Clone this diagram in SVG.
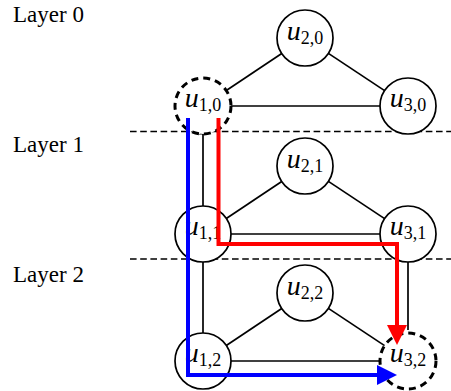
<svg xmlns="http://www.w3.org/2000/svg" width="451" height="391" viewBox="0 0 451 391">
<style>
.sep{stroke:#000;stroke-width:1.6;stroke-dasharray:6.6 3.6;fill:none}
.edge{stroke:#000;stroke-width:1.7;fill:none}
.node{fill:#fff;stroke:#000;stroke-width:1.7}
.dnode{fill:#fff;stroke:#000;stroke-width:3;stroke-dasharray:7 5}
.lbl{font-size:28px;fill:#000}
.lbl .u{font-style:italic}
.lbl .s{font-size:18px}
.layer{font-size:23px;fill:#000}
.red{stroke:#ff0000;stroke-width:4;fill:none;stroke-linejoin:miter}
.blue{stroke:#0000ff;stroke-width:4;fill:none;stroke-linejoin:miter}
</style>
<defs>
<marker id="ar" markerUnits="userSpaceOnUse" markerWidth="20" markerHeight="20" refX="0" refY="10" orient="auto" viewBox="0 0 20 20"><path d="M0,0 L20,10 L0,20 z" fill="#ff0000"/></marker>
<marker id="ab" markerUnits="userSpaceOnUse" markerWidth="20" markerHeight="20" refX="0" refY="10" orient="auto" viewBox="0 0 20 20"><path d="M0,0 L20,10 L0,20 z" fill="#0000ff"/></marker>
</defs>
<g id="layers" font-family="'Liberation Serif', 'Times New Roman', serif">
<text class="layer" x="13" y="22">Layer 0</text>
<text class="layer" x="13" y="152">Layer 1</text>
<text class="layer" x="13" y="282">Layer 2</text>
<line class="sep" x1="130" y1="131.5" x2="451" y2="131.5"/>
<line class="sep" x1="130" y1="259" x2="451" y2="259"/>
</g>
<g id="connectors">
<line class="edge" x1="226.3" y1="90.5" x2="281.7" y2="53.5"/>
<line class="edge" x1="328.4" y1="53.4" x2="384.6" y2="90.6"/>
<line class="edge" x1="231" y1="106" x2="380" y2="106"/>
<line class="edge" x1="226.3" y1="218.5" x2="281.7" y2="181.5"/>
<line class="edge" x1="328.4" y1="181.4" x2="384.6" y2="218.6"/>
<line class="edge" x1="231" y1="234" x2="380" y2="234"/>
<line class="edge" x1="226.3" y1="345.5" x2="281.7" y2="308.5"/>
<line class="edge" x1="328.4" y1="308.4" x2="384.6" y2="345.6"/>
<line class="edge" x1="231" y1="361" x2="379" y2="361"/>
<line class="edge" x1="203" y1="134" x2="203" y2="206"/>
<polygon points="198.5,134.5 207.5,134.5 203,131.5" fill="#000"/>
<line class="edge" x1="203" y1="262" x2="203" y2="333"/>
<line class="edge" x1="408" y1="262" x2="408" y2="330"/>
</g>
<g font-family="'Liberation Serif', 'Times New Roman', serif">
<g id="u20"><circle class="node" cx="305" cy="38" r="28"/><text class="lbl" x="305" y="40" text-anchor="middle"><tspan class="u">u</tspan><tspan class="s" dy="4">2,0</tspan></text></g>
<g id="u10"><circle class="dnode" cx="203" cy="106" r="28"/><text class="lbl" x="203" y="107" text-anchor="middle"><tspan class="u">u</tspan><tspan class="s" dy="4">1,0</tspan></text></g>
<g id="u30"><circle class="node" cx="408" cy="106" r="28"/><text class="lbl" x="408" y="107" text-anchor="middle"><tspan class="u">u</tspan><tspan class="s" dy="4">3,0</tspan></text></g>
<g id="u21"><circle class="node" cx="305" cy="166" r="28"/><text class="lbl" x="305" y="168" text-anchor="middle"><tspan class="u">u</tspan><tspan class="s" dy="4">2,1</tspan></text></g>
<g id="u11"><circle class="node" cx="203" cy="234" r="28"/><text class="lbl" x="203" y="235" text-anchor="middle"><tspan class="u">u</tspan><tspan class="s" dy="4">1,1</tspan></text></g>
<g id="u31"><circle class="node" cx="408" cy="234" r="28"/><text class="lbl" x="408" y="235" text-anchor="middle"><tspan class="u">u</tspan><tspan class="s" dy="4">3,1</tspan></text></g>
<g id="u22"><circle class="node" cx="305" cy="293" r="28"/><text class="lbl" x="305" y="295" text-anchor="middle"><tspan class="u">u</tspan><tspan class="s" dy="4">2,2</tspan></text></g>
<g id="u12"><circle class="node" cx="203" cy="361" r="28"/><text class="lbl" x="203" y="362" text-anchor="middle"><tspan class="u">u</tspan><tspan class="s" dy="4">1,2</tspan></text></g>
<g id="u32"><circle class="dnode" cx="408" cy="361" r="28"/><text class="lbl" x="408" y="362" text-anchor="middle"><tspan class="u">u</tspan><tspan class="s" dy="4">3,2</tspan></text></g>
</g>
<g id="paths">
<path class="red" d="M218.5,118 V244 H397 V325" marker-end="url(#ar)"/>
<path class="blue" d="M188,118 V375 H377" marker-end="url(#ab)"/>
</g>
</svg>
